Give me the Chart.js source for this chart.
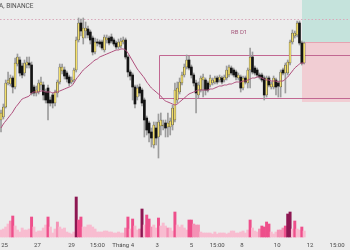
<!DOCTYPE html>
<html>
<head>
<meta charset="utf-8">
<script src="https://cdn.jsdelivr.net/npm/chart.js@4.4.1/dist/chart.umd.min.js"></script>
<style>
  html, body { margin: 0; padding: 0; background: #ececec; }
  #wrap { width: 350px; height: 250px; }
</style>
</head>
<body>
<div id="wrap"><canvas id="chart" width="350" height="250"></canvas></div>
<script>
// ==================== DATA ====================
const opens = [
  80, 83, 93, 117, 116, 122, 113, 136, 140, 134,
  127, 135, 137, 135, 113, 107, 108, 115, 115, 108,
  112, 100, 105, 97, 107, 118, 129, 130, 127, 123,
  118, 120, 130, 160, 177, 162, 169, 171, 168, 162,
  148, 158, 158, 158, 150, 160, 162, 163, 160, 157,
  153, 154, 158, 160, 143, 128, 125, 113, 103, 113,
  110, 100, 82, 77, 68, 55, 72, 63, 74, 74,
  77, 73, 73, 75, 80, 100, 108, 117, 125, 133,
  140, 133, 125, 117, 105, 110, 120, 120, 117, 115,
  117, 118, 122, 120, 122, 120, 122, 125, 132, 130,
  128, 122, 123, 112, 122, 117, 130, 143, 132, 130,
  125, 125, 122, 105, 122, 113, 113, 120, 117, 113,
  130, 127, 127, 137, 158, 164, 165, 177, 157, 137,
];
const closes = [
  87, 93, 117, 120, 122, 113, 137, 143, 127, 125,
  137, 138, 135, 107, 107, 110, 117, 118, 105, 100,
  97, 97, 97, 108, 118, 133, 133, 124, 121, 117,
  120, 130, 160, 177, 169, 172, 172, 165, 160, 148,
  158, 157, 156, 152, 163, 162, 157, 159, 156, 153,
  158, 159, 160, 143, 128, 124, 113, 96, 112, 107,
  97, 80, 70, 67, 62, 75, 62, 78, 80, 75,
  72, 77, 79, 92, 110, 112, 118, 125, 133, 140,
  132, 125, 117, 107, 115, 122, 123, 110, 110, 122,
  120, 122, 118, 123, 118, 123, 130, 133, 127, 125,
  123, 125, 112, 122, 118, 130, 143, 128, 127, 125,
  123, 120, 105, 122, 115, 116, 122, 113, 114, 128,
  127, 135, 138, 158, 167, 167, 177, 157, 137, 157,
];
const highs = [
  90, 96, 120, 128, 125, 124, 142, 146, 143, 137,
  140, 143, 143, 138, 115, 114, 120, 123, 118, 111,
  115, 103, 107, 110, 120, 136, 136, 133, 129, 125,
  123, 132, 163, 182, 181, 182, 178, 174, 170, 164,
  162, 161, 160, 160, 165, 165, 164, 166, 162, 159,
  161, 162, 163, 162, 145, 130, 127, 115, 115, 116,
  112, 102, 84, 79, 72, 78, 78, 86, 87, 80,
  80, 87, 82, 95, 117, 118, 122, 128, 136, 145,
  144, 135, 127, 120, 118, 124, 126, 122, 119, 125,
  122, 124, 124, 125, 124, 125, 134, 135, 134, 132,
  130, 127, 125, 124, 124, 132, 152, 148, 134, 132,
  127, 127, 124, 124, 124, 118, 124, 122, 119, 130,
  132, 137, 140, 160, 170, 169, 179, 179, 159, 158,
];
const lows = [
  68, 81, 92, 115, 114, 107, 111, 134, 124, 122,
  124, 132, 132, 105, 104, 104, 106, 110, 100, 97,
  80, 94, 92, 94, 103, 116, 126, 121, 118, 114,
  116, 118, 128, 158, 164, 156, 162, 162, 156, 145,
  146, 154, 153, 150, 148, 157, 155, 157, 154, 151,
  151, 152, 156, 141, 123, 120, 100, 92, 100, 104,
  94, 63, 65, 58, 53, 52, 55, 42, 65, 70,
  63, 63, 65, 70, 78, 97, 106, 115, 123, 131,
  130, 122, 114, 87, 102, 108, 103, 105, 108, 113,
  115, 116, 116, 118, 116, 118, 120, 123, 125, 123,
  120, 120, 108, 110, 116, 112, 112, 126, 125, 123,
  121, 118, 100, 103, 113, 111, 111, 105, 103, 103,
  125, 107, 125, 135, 156, 162, 163, 155, 135, 136,
];
const maValues = [
  72, 76, 79, 82, 85, 88, 92, 95, 98, 101,
  102, 103, 104, 107, 108, 108, 108, 109, 109, 108,
  108, 108, 107, 108, 108, 109, 110, 111, 112, 113,
  114, 117, 121, 124, 127, 130, 132, 134, 136, 138,
  140, 141, 143, 144, 145, 146, 147, 148, 149, 150,
  150, 151, 151, 150, 147, 143, 139, 135, 131, 128,
  125, 122, 118, 115, 112, 110, 108, 106, 104, 101,
  99, 98, 97, 96, 95, 96, 98, 100, 102, 104,
  106, 107, 108, 109, 110, 110, 110, 110, 110, 111,
  111, 112, 113, 114, 114, 115, 115, 116, 116, 117,
  118, 118, 118, 119, 119, 120, 121, 122, 122, 123,
  123, 122, 121, 120, 120, 119, 119, 119, 118, 119,
  119, 121, 123, 126, 129, 132, 134, 136, 137, 137,
];
const volumes = [
  70, 80, 100, 130, 160, 210, 110, 70, 50, 90,
  70, 70, 80, 200, 100, 50, 60, 60, 90, 120,
  200, 100, 40, 80, 150, 100, 80, 90, 50, 40,
  30, 50, 400, 170, 200, 100, 100, 120, 120, 100,
  80, 50, 50, 50, 60, 60, 50, 50, 40, 40,
  50, 40, 40, 90, 200, 80, 180, 110, 70, 80,
  280, 120, 220, 180, 100, 120, 90, 190, 110, 140,
  110, 90, 90, 60, 250, 120, 100, 120, 90, 70,
  170, 170, 130, 120, 120, 50, 40, 40, 40, 40,
  30, 50, 30, 40, 40, 40, 30, 40, 60, 60,
  40, 40, 50, 60, 40, 70, 170, 90, 60, 50,
  80, 110, 100, 150, 130, 50, 30, 50, 70, 70,
  90, 110, 230, 250, 80, 160, 80, 70, 100, 60,
];
// relative volume level: 0 normal, 1 raised, 2 high, 3 extreme
const volumeLevel = [
  0, 0, 0, 0, 1, 2, 0, 0, 0, 0,
  0, 0, 0, 2, 0, 0, 0, 0, 0, 0,
  2, 0, 0, 0, 1, 0, 0, 0, 0, 0,
  0, 0, 3, 2, 2, 0, 0, 0, 0, 0,
  0, 0, 0, 0, 0, 0, 0, 0, 0, 0,
  0, 0, 0, 1, 2, 0, 2, 0, 0, 1,
  3, 0, 2, 2, 1, 0, 0, 2, 0, 0,
  0, 1, 0, 0, 2, 0, 0, 0, 0, 0,
  2, 2, 1, 1, 1, 0, 0, 0, 0, 0,
  0, 0, 0, 0, 0, 0, 0, 0, 0, 0,
  0, 0, 0, 0, 0, 0, 2, 0, 0, 0,
  1, 2, 2, 2, 2, 0, 0, 0, 1, 1,
  1, 2, 3, 3, 0, 2, 0, 0, 2, 0,
];
const tickPos = [1.5, 15.5, 30, 41, 52, 66.5, 81, 92, 102.5, 117.5, 131.5, 143];
const tickLabels = ['25', '27', '29', '15:00', 'Tháng 4', '3', '5', '15:00', '8', '10', '12', '15:00'];

// drawings on the chart (candle index / price)
const boxStart = 67.2, boxTop = 145, boxBottom = 102;
const zoneStart = 128.1, targetLevel = 200, entryLevel = 158, stopLevel = 98;
const dottedLevel = 181;
const boxLabel = { text: 'RB D1', x: 101.3, y: 168 };
const symbolText = 'A, BINANCE';

// ==================== STYLE ====================
const BG = '#ececec';
const UP = '#f3df6c';
const DOWN = '#141414';
const WICK = '#9c9c9c';
const MA_COLOR = '#b04f7c';
const VOL_COLORS = ['#f8bcd0', '#f492b5', '#ee4f8b', '#8d1752'];
const X_MIN = -0.43, X_MAX = 148.5;

const isUp = (i) => closes[i] >= opens[i];

const bgPlugin = {
  id: 'bg',
  beforeDraw(chart) {
    const { ctx, width, height } = chart;
    ctx.save();
    ctx.fillStyle = BG;
    ctx.fillRect(0, 0, width, height);
    ctx.restore();
  },
};

const drawingsPlugin = {
  id: 'drawings',
  beforeDatasetsDraw(chart) {
    const { ctx, chartArea: a, scales: { x, y } } = chart;
    const zx = Math.round(x.getPixelForValue(zoneStart));
    const yT = Math.max(a.top, y.getPixelForValue(targetLevel));
    const yE = Math.round(y.getPixelForValue(entryLevel));
    const yS = Math.round(y.getPixelForValue(stopLevel));
    ctx.save();
    // target / stop zones
    ctx.fillStyle = '#c5e3dc';
    ctx.fillRect(zx, yT, a.right - zx, yE - yT);
    ctx.fillStyle = '#f1cdd3';
    ctx.fillRect(zx, yE, a.right - zx, yS - yE);
    ctx.fillStyle = '#e6a3b1';
    ctx.fillRect(zx, yE, a.right - zx, 1);

    // dotted level
    const yd = Math.round(y.getPixelForValue(dottedLevel)) + 0.5;
    ctx.strokeStyle = '#d9a9bb';
    ctx.lineWidth = 1;
    ctx.setLineDash([1.5, 2]);
    ctx.beginPath();
    ctx.moveTo(a.left, yd);
    ctx.lineTo(a.right, yd);
    ctx.stroke();
    ctx.setLineDash([]);

    // range box
    const bx = Math.round(x.getPixelForValue(boxStart)) + 0.5;
    const bt = Math.round(y.getPixelForValue(boxTop)) + 0.5;
    const bb = Math.round(y.getPixelForValue(boxBottom)) + 0.5;
    ctx.strokeStyle = '#c26892';
    ctx.beginPath();
    ctx.moveTo(a.right + 2, bt);
    ctx.lineTo(bx, bt);
    ctx.lineTo(bx, bb);
    ctx.lineTo(a.right + 2, bb);
    ctx.stroke();

    ctx.fillStyle = '#a5577b';
    ctx.font = '6px Roboto';
    ctx.textAlign = 'center';
    ctx.textBaseline = 'middle';
    ctx.fillText(boxLabel.text, x.getPixelForValue(boxLabel.x), y.getPixelForValue(boxLabel.y));
    ctx.restore();
  },
  afterDraw(chart) {
    const { ctx, scales: { x } } = chart;
    ctx.save();
    // time axis labels, placed through the x scale
    ctx.fillStyle = '#4a4a4a';
    ctx.font = '6px Roboto';
    ctx.textAlign = 'center';
    ctx.textBaseline = 'middle';
    tickPos.forEach((v, k) => ctx.fillText(tickLabels[k], x.getPixelForValue(v), 245.5));

    ctx.fillStyle = '#505050';
    ctx.font = '6.5px Roboto';
    ctx.textAlign = 'left';
    ctx.fillText(symbolText, -1, 6);
    ctx.restore();
  },
};

const idx = opens.map((_, i) => i);

new Chart(document.getElementById('chart'), {
  type: 'bar',
  data: {
    datasets: [
      {
        type: 'line',
        data: idx.map((i) => ({ x: i, y: maValues[i] })),
        borderColor: MA_COLOR,
        borderWidth: 1,
        pointRadius: 0,
        tension: 0.3,
        yAxisID: 'y',
        order: 0,
      },
      {
        data: idx.map((i) => ({ x: i, y: [opens[i], closes[i]] })),
        backgroundColor: (c) => (isUp(c.dataIndex) ? UP : DOWN),
        borderColor: '#3a3a3a',
        borderWidth: (c) => (isUp(c.dataIndex) ? 0.5 : 0),
        borderSkipped: false,
        barThickness: 2,
        grouped: false,
        yAxisID: 'y',
        order: 1,
      },
      {
        data: idx.map((i) => ({ x: i, y: [lows[i], highs[i]] })),
        backgroundColor: WICK,
        barThickness: 1,
        grouped: false,
        yAxisID: 'y',
        order: 2,
      },
      {
        data: idx.map((i) => ({ x: i, y: volumes[i] })),
        backgroundColor: (c) => VOL_COLORS[volumeLevel[c.dataIndex]],
        barThickness: 2.3,
        grouped: false,
        yAxisID: 'yv',
        order: 3,
      },
    ],
  },
  options: {
    responsive: false,
    devicePixelRatio: 1,
    animation: false,
    layout: { padding: 0 },
    plugins: { legend: { display: false }, tooltip: { enabled: false } },
    scales: {
      x: { type: 'linear', display: false, min: X_MIN, max: X_MAX, offset: false },
      y: { display: false, min: -50, max: 200 },
      yv: { display: false, min: -130, max: 2370 },
    },
  },
  plugins: [bgPlugin, drawingsPlugin],
});
</script>
</body>
</html>
